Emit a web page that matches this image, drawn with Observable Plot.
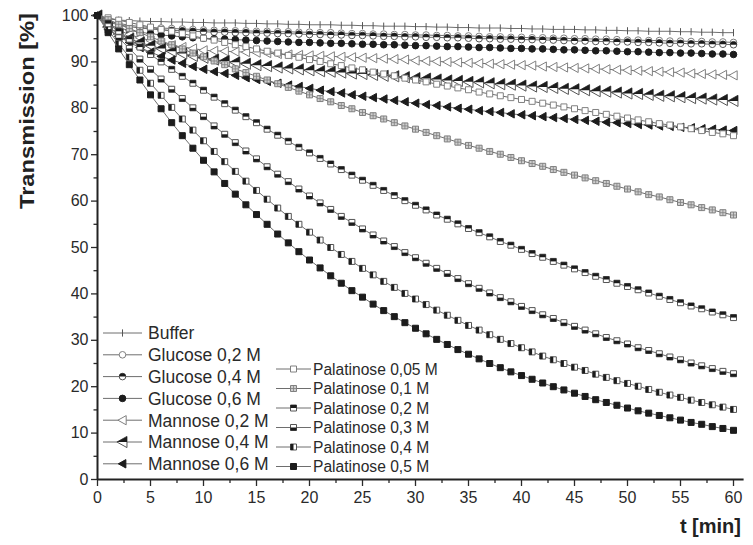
<!DOCTYPE html>
<html><head><meta charset="utf-8">
<script src="https://cdn.jsdelivr.net/npm/d3@7"></script>
<script src="https://cdn.jsdelivr.net/npm/@observablehq/plot@0.6"></script>
<style>body{margin:0;background:#fff} svg{display:block}</style>
</head><body><div id="chart"></div>
<script>
// ---------- data ----------
const minutes = [0,1,2,3,4,5,6,7,8,9,10,11,12,13,14,15,16,17,18,19,20,21,22,23,24,25,26,27,28,29,30,
  31,32,33,34,35,36,37,38,39,40,41,42,43,44,45,46,47,48,49,50,51,52,53,54,55,56,57,58,59,60];

const seriesNames = ["Buffer","Glucose 0,2 M","Glucose 0,4 M","Glucose 0,6 M","Mannose 0,2 M","Mannose 0,4 M","Mannose 0,6 M",
  "Palatinose 0,05 M","Palatinose 0,1 M","Palatinose 0,2 M","Palatinose 0,3 M","Palatinose 0,4 M","Palatinose 0,5 M"];

const buffer = [100,99.3,99.0,98.9,98.8,98.7,98.7,98.6,98.6,98.5,
  98.5,98.4,98.4,98.4,98.3,98.3,98.2,98.2,98.1,98.1,
  98.0,98.0,98.0,97.9,97.9,97.8,97.8,97.7,97.7,97.7,
  97.6,97.6,97.5,97.5,97.4,97.4,97.3,97.3,97.3,97.2,
  97.2,97.1,97.1,97.0,97.0,97.0,96.9,96.9,96.8,96.8,
  96.7,96.7,96.6,96.6,96.6,96.5,96.5,96.4,96.4,96.3,
  96.3];
const glucose02 = [100,98.9,98.3,97.9,97.6,97.4,97.3,97.2,97.1,97.0,
  96.9,96.8,96.8,96.7,96.7,96.6,96.6,96.5,96.5,96.4,
  96.4,96.3,96.3,96.2,96.1,96.1,96.0,96.0,95.9,95.9,
  95.8,95.8,95.7,95.7,95.6,95.6,95.5,95.4,95.4,95.3,
  95.3,95.2,95.2,95.1,95.1,95.0,95.0,94.9,94.9,94.8,
  94.7,94.7,94.6,94.6,94.5,94.5,94.4,94.4,94.3,94.3,
  94.2];
const glucose04 = [100,98.6,98.0,97.6,97.3,97.1,96.9,96.8,96.7,96.6,
  96.5,96.4,96.4,96.3,96.3,96.2,96.2,96.1,96.1,96.0,
  95.9,95.9,95.8,95.8,95.7,95.7,95.6,95.5,95.5,95.4,
  95.4,95.3,95.3,95.2,95.2,95.1,95.0,95.0,94.9,94.9,
  94.8,94.8,94.7,94.7,94.6,94.5,94.5,94.4,94.4,94.3,
  94.3,94.2,94.2,94.1,94.0,94.0,93.9,93.9,93.8,93.8,
  93.7];
const glucose06 = [100,98.0,97.3,96.8,96.4,96.1,95.8,95.6,95.4,95.2,
  95.1,95.0,94.9,94.8,94.7,94.6,94.5,94.4,94.3,94.2,
  94.2,94.1,94.0,94.0,93.9,93.8,93.8,93.7,93.7,93.6,
  93.5,93.5,93.4,93.3,93.3,93.2,93.1,93.1,93.0,92.9,
  92.9,92.8,92.8,92.7,92.6,92.6,92.5,92.4,92.4,92.3,
  92.2,92.2,92.1,92.0,92.0,91.9,91.9,91.8,91.7,91.7,
  91.6];
const mannose02 = [100,98.0,96.8,95.9,95.2,94.6,94.1,93.6,93.2,92.9,
  92.5,92.4,92.3,92.2,92.1,92.0,91.9,91.7,91.6,91.5,
  91.4,91.3,91.2,91.1,91.0,90.9,90.8,90.7,90.6,90.5,
  90.3,90.2,90.1,90.0,89.9,89.8,89.7,89.6,89.5,89.4,
  89.3,89.2,89.0,88.9,88.8,88.7,88.6,88.5,88.4,88.3,
  88.2,88.1,88.0,87.9,87.8,87.7,87.5,87.4,87.3,87.2,
  87.1];
const mannose04 = [100,97.5,96.0,95.0,94.2,93.5,92.9,92.3,91.8,91.3,
  90.9,90.5,90.2,89.9,89.6,89.3,89.1,88.8,88.6,88.4,
  88.2,88.0,87.9,87.7,87.5,87.4,87.2,87.0,86.9,86.7,
  86.5,86.4,86.2,86.0,85.9,85.7,85.6,85.4,85.2,85.1,
  84.9,84.7,84.6,84.4,84.2,84.1,83.9,83.7,83.6,83.4,
  83.2,83.1,82.9,82.7,82.6,82.4,82.2,82.1,81.9,81.8,
  81.6];
const mannose06 = [100,97.0,95.5,94.2,93.1,92.1,91.2,90.4,89.7,89.0,
  88.4,87.9,87.5,87.1,86.6,86.2,85.8,85.4,85.0,84.7,
  84.3,83.9,83.6,83.3,82.9,82.6,82.3,82.0,81.7,81.4,
  81.1,80.8,80.6,80.3,80.0,79.8,79.5,79.3,79.1,78.8,
  78.6,78.4,78.2,78.0,77.8,77.6,77.4,77.2,77.0,76.9,
  76.7,76.5,76.4,76.2,76.1,75.9,75.8,75.6,75.5,75.3,
  75.2];
const palatinose005 = [100,99.5,99.0,98.5,98.0,97.5,97.0,96.6,96.1,95.6,
  95.1,94.7,94.2,93.7,93.3,92.8,92.3,91.9,91.4,91.0,
  90.5,90.1,89.6,89.2,88.7,88.3,87.8,87.4,87.0,86.5,
  86.1,85.7,85.2,84.8,84.4,84.0,83.5,83.1,82.7,82.3,
  81.9,81.5,81.1,80.7,80.3,79.9,79.5,79.1,78.7,78.3,
  77.9,77.5,77.1,76.7,76.4,76.0,75.6,75.2,74.8,74.5,
  74.1];
const palatinose01 = [100,99.1,98.1,97.2,96.3,95.4,94.5,93.7,92.8,91.9,
  91.1,90.2,89.4,88.5,87.7,86.9,86.1,85.3,84.5,83.7,
  82.9,82.1,81.4,80.6,79.9,79.1,78.4,77.7,76.9,76.2,
  75.5,74.8,74.1,73.4,72.7,72.0,71.4,70.7,70.1,69.4,
  68.7,68.1,67.5,66.8,66.2,65.6,65.0,64.4,63.8,63.2,
  62.6,62.0,61.4,60.9,60.3,59.7,59.2,58.6,58.1,57.5,
  57.0];
const palatinose02 = [100,98.3,96.6,94.9,93.2,91.6,90.0,88.4,86.9,85.4,
  83.9,82.4,81.0,79.6,78.2,76.9,75.5,74.2,72.9,71.6,
  70.4,69.2,68.0,66.8,65.6,64.5,63.4,62.3,61.2,60.1,
  59.1,58.1,57.0,56.1,55.1,54.1,53.2,52.3,51.3,50.5,
  49.6,48.7,47.9,47.0,46.2,45.4,44.6,43.8,43.1,42.3,
  41.6,40.9,40.2,39.5,38.8,38.1,37.4,36.8,36.1,35.5,
  34.9];
const palatinose03 = [100,97.6,95.2,92.9,90.6,88.4,86.3,84.1,82.1,80.1,
  78.2,76.2,74.4,72.6,70.8,69.1,67.4,65.8,64.2,62.6,
  61.1,59.6,58.2,56.7,55.4,54.0,52.7,51.4,50.2,48.9,
  47.8,46.6,45.5,44.4,43.3,42.2,41.2,40.2,39.2,38.3,
  37.3,36.4,35.5,34.7,33.8,33.0,32.2,31.4,30.6,29.9,
  29.2,28.4,27.8,27.1,26.4,25.8,25.1,24.5,23.9,23.3,
  22.8];
const palatinose04 = [100,96.9,93.9,91.0,88.2,85.4,82.8,80.2,77.7,75.3,
  73.0,70.7,68.5,66.4,64.3,62.3,60.4,58.5,56.7,55.0,
  53.3,51.6,50.0,48.5,47.0,45.5,44.1,42.7,41.4,40.1,
  38.9,37.7,36.5,35.4,34.3,33.2,32.2,31.2,30.2,29.3,
  28.4,27.5,26.6,25.8,25.0,24.2,23.5,22.7,22.0,21.3,
  20.7,20.1,19.4,18.8,18.2,17.7,17.1,16.6,16.1,15.6,
  15.1];
const palatinose05 = [100,96.3,92.8,89.4,86.1,82.9,79.9,76.9,74.1,71.4,
  68.8,66.3,63.8,61.5,59.2,57.1,55.0,52.9,51.0,49.1,
  47.3,45.6,43.9,42.3,40.7,39.3,37.8,36.4,35.1,33.8,
  32.6,31.4,30.2,29.1,28.0,27.0,26.0,25.0,24.1,23.2,
  22.4,21.6,20.8,20.0,19.3,18.6,17.9,17.2,16.6,16.0,
  15.4,14.8,14.3,13.8,13.3,12.8,12.3,11.9,11.4,11.0,
  10.6];

const yTicks = [0,10,20,30,40,50,60,70,80,90,100];
const yMinorTicks = [5,15,25,35,45,55,65,75,85,95];
const xTicks = [0,5,10,15,20,25,30,35,40,45,50,55,60];
const xMinorTicks = [2.5,7.5,12.5,17.5,22.5,27.5,32.5,37.5,42.5,47.5,52.5,57.5];

const seriesValues = [buffer,glucose02,glucose04,glucose06,mannose02,mannose04,mannose06,
  palatinose005,palatinose01,palatinose02,palatinose03,palatinose04,palatinose05];

// ---------- custom marker shapes ----------
const R = s => Math.sqrt(s / Math.PI);
const sym = {
  vbar:   {draw(c, s){const r=R(s); c.moveTo(0,-r); c.lineTo(0,r);}},
  circle: {draw(c, s){const r=R(s); c.moveTo(r,0); c.arc(0,0,r,0,2*Math.PI); c.closePath();}},
  circleTop: {draw(c, s){const r=R(s); c.moveTo(-r,0); c.arc(0,0,r,Math.PI,2*Math.PI); c.closePath();}},
  triLeft: {draw(c, s){const r=R(s); c.moveTo(-r,0); c.lineTo(r*0.8,-r); c.lineTo(r*0.8,r); c.closePath();}},
  triLeftTop: {draw(c, s){const r=R(s); c.moveTo(-r,0); c.lineTo(r*0.8,-r); c.lineTo(r*0.8,0); c.closePath();}},
  square: {draw(c, s){const r=R(s); c.rect(-r,-r,2*r,2*r);}},
  squareTop: {draw(c, s){const r=R(s); c.rect(-r,-r,2*r,r);}},
  squareBottom: {draw(c, s){const r=R(s); c.rect(-r,0,2*r,r);}},
  squareLeft: {draw(c, s){const r=R(s); c.rect(-r,-r,r,2*r);}},
  squareCross: {draw(c, s){const r=R(s); c.moveTo(-r,0); c.lineTo(r,0); c.moveTo(0,-r); c.lineTo(0,r);}}
};
const DARK = "#1c1c1c", MID = "#555", LIGHT = "#808080", LINE = "#6e6e6e";
const markerStyles = [
  [{symbol: sym.vbar, r: 3.6, fill: "none", stroke: MID, sw: 1}],
  [{symbol: sym.circle, r: 3.3, fill: "#fff", stroke: LIGHT, sw: 1}],
  [{symbol: sym.circle, r: 3.3, fill: "#fff", stroke: MID, sw: 1}, {symbol: sym.circleTop, r: 3.3, fill: DARK, stroke: "none", sw: 0}],
  [{symbol: sym.circle, r: 3.3, fill: DARK, stroke: DARK, sw: 1}],
  [{symbol: sym.triLeft, r: 4.6, fill: "#fff", stroke: LIGHT, sw: 1}],
  [{symbol: sym.triLeft, r: 5.6, fill: "#fff", stroke: MID, sw: 1}, {symbol: sym.triLeftTop, r: 5.6, fill: DARK, stroke: "none", sw: 0}],
  [{symbol: sym.triLeft, r: 4.2, fill: DARK, stroke: DARK, sw: 1}],
  [{symbol: sym.square, r: 3, fill: "#fff", stroke: LIGHT, sw: 1}],
  [{symbol: sym.square, r: 3, fill: "#cfcfcf", stroke: LIGHT, sw: 1}, {symbol: sym.squareCross, r: 3, fill: "none", stroke: LIGHT, sw: 0.8}],
  [{symbol: sym.square, r: 3, fill: "#fff", stroke: MID, sw: 1}, {symbol: sym.squareTop, r: 3, fill: DARK, stroke: "none", sw: 0}],
  [{symbol: sym.square, r: 3, fill: "#fff", stroke: MID, sw: 1}, {symbol: sym.squareBottom, r: 3, fill: DARK, stroke: "none", sw: 0}],
  [{symbol: sym.square, r: 3, fill: "#fff", stroke: MID, sw: 1}, {symbol: sym.squareLeft, r: 3, fill: DARK, stroke: "none", sw: 0}],
  [{symbol: sym.square, r: 3, fill: DARK, stroke: DARK, sw: 1}]
];

const FONT = "'Liberation Sans', Arial, Helvetica, sans-serif";

const marks = [];
seriesNames.forEach((name, i) => {
  const rows = minutes.map((t, j) => ({t, v: seriesValues[i][j], series: name}));
  marks.push(Plot.line(rows, {x: "t", y: "v", stroke: LINE, strokeWidth: 1}));
  markerStyles[i].forEach(m => {
    marks.push(Plot.dot(rows, {x: "t", y: "v", symbol: m.symbol, r: m.r, fill: m.fill, stroke: m.stroke, strokeWidth: m.sw}));
  });
});

const chart = Plot.plot({
  width: 753, height: 545,
  marginLeft: 97, marginRight: 9.4, marginTop: 15, marginBottom: 66,
  x: {domain: [0, 61]},
  y: {domain: [0, 100]},
  style: {fontFamily: FONT, color: "#2a2a2a", background: "#fff"},
  marks: [
    Plot.axisY(yTicks, {tickSize: 6, tickPadding: 3, fontSize: 16, label: null, strokeWidth: 1.3}),
    Plot.axisY(yMinorTicks, {tickSize: 3.5, tickFormat: () => "", label: null, strokeWidth: 1.3}),
    Plot.axisX(xTicks, {tickSize: 7, tickPadding: 5, fontSize: 16, label: null, strokeWidth: 1.3}),
    Plot.axisX(xMinorTicks, {tickSize: 4, tickFormat: () => "", label: null, strokeWidth: 1.3}),
    ...marks,
    Plot.ruleX([0], {stroke: "#222", strokeWidth: 2}),
    Plot.ruleY([0], {stroke: "#222", strokeWidth: 2})
  ]
});
document.getElementById("chart").appendChild(chart);

// ---------- axis titles and legend ----------
const svg = d3.select(chart);
svg.append("text")
  .attr("transform", "translate(34,111) rotate(-90)")
  .attr("text-anchor", "middle")
  .attr("textLength", 196).attr("lengthAdjust", "spacingAndGlyphs")
  .attr("font-family", FONT).attr("font-weight", "bold").attr("font-size", 20).attr("fill", "#222")
  .text("Transmission [%]");
svg.append("text")
  .attr("x", 741).attr("y", 533)
  .attr("text-anchor", "end")
  .attr("font-family", FONT).attr("font-weight", "bold").attr("font-size", 20).attr("fill", "#222")
  .text("t [min]");

const leg = svg.append("g").attr("font-family", FONT).attr("fill", "#2a2a2a").attr("text-anchor", "start");
function legendRow(i, x0, x1, y, tx, fs) {
  leg.append("line").attr("x1", x0).attr("x2", x1).attr("y1", y).attr("y2", y)
    .attr("stroke", LINE).attr("stroke-width", 1);
  markerStyles[i].forEach(m => {
    leg.append("path")
      .attr("transform", `translate(${(x0 + x1) / 2},${y})`)
      .attr("d", d3.symbol(m.symbol, m.r * m.r * Math.PI)())
      .attr("fill", m.fill).attr("stroke", m.stroke).attr("stroke-width", m.sw);
  });
  leg.append("text").attr("x", tx).attr("y", y).attr("dy", "0.36em")
    .attr("text-anchor", "start")
    .attr("font-size", fs).text(seriesNames[i]);
}
for (let i = 0; i < 7; i++) legendRow(i, 103, 142, 333 + i * 21.8, 148, 17.5);
for (let i = 7; i < 13; i++) legendRow(i, 276, 311, 369 + (i - 7) * 19.5, 313, 15.6);
</script>
</body></html>
